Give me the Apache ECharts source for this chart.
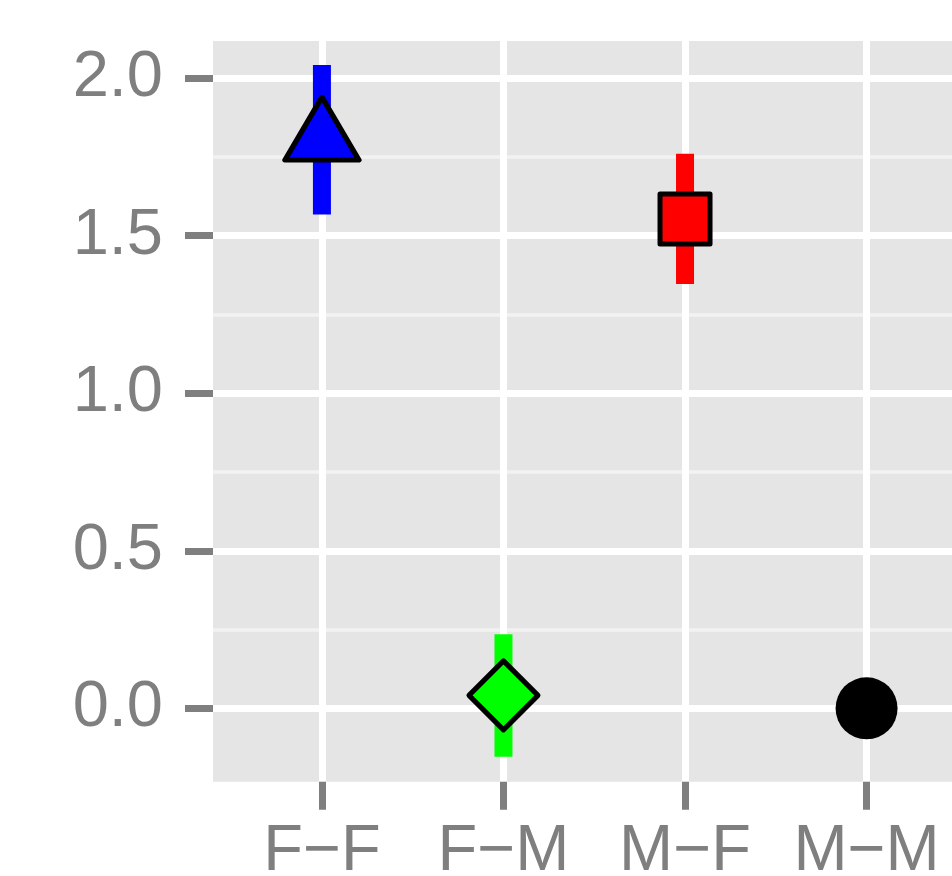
<!DOCTYPE html>
<html>
<head>
<meta charset="utf-8">
<script src="https://cdn.jsdelivr.net/npm/echarts@6/dist/echarts.min.js"></script>
<style>
  html, body { margin: 0; padding: 0; background: #ffffff; }
  #chart { width: 952px; height: 876px; }
</style>
</head>
<body>
<div id="chart"></div>
<script>
// ---- data ----
var categories = ['F\u2212F', 'F\u2212M', 'M\u2212F', 'M\u2212M'];
var means = [1.805, 0.041, 1.553, 0.0];
var upper = [2.042, 0.235, 1.760, 0.0];
var lower = [1.567, -0.154, 1.347, 0.0];
var yTicks = [0, 0.5, 1.0, 1.5, 2.0];
var yMinorTicks = [0.25, 0.75, 1.25, 1.75];
var xTicks = [1, 2, 3, 4];

// ---- styles ----
var colors = ['#0000FF', '#00FF00', '#FF0000', '#000000'];
var symbols = ['triangle', 'diamond', 'rect', 'circle'];
var symbolSizes = [[74, 63], [69, 69], [50, 50], 62];
var symbolOffsets = [[0, -11], [0, 0], [0, 0], [0, 0]];
var borderWidths = [5, 5, 5, 0];

var textColor = '#7F7F7F';
var fontFamily = '"Liberation Sans", Arial, Helvetica, sans-serif';

var chart = echarts.init(document.getElementById('chart'), null, { renderer: 'canvas' });

var errData = categories.map(function (c, i) {
  return [i + 1, lower[i], upper[i]];
});
var pointData = categories.map(function (c, i) {
  return {
    value: [i + 1, means[i]],
    symbol: symbols[i],
    symbolSize: symbolSizes[i],
    symbolOffset: symbolOffsets[i],
    itemStyle: {
      color: colors[i],
      opacity: 1,
      borderColor: '#000000',
      borderWidth: borderWidths[i],
      borderJoin: 'round'
    }
  };
});

var option = {
  animation: false,
  backgroundColor: '#ffffff',
  grid: {
    left: 213,
    top: 41,
    width: 762.5,
    height: 740.7,
    show: true,
    backgroundColor: '#E5E5E5',
    borderWidth: 0,
    containLabel: false,
    outerBoundsMode: 'none'
  },
  xAxis: {
    type: 'value',
    min: 0.4,
    max: 4.6,
    position: 'bottom',
    axisLine: { show: false, onZero: false },
    axisTick: {
      show: true,
      customValues: xTicks,
      length: 28,
      lineStyle: { color: textColor, width: 7 }
    },
    axisLabel: {
      show: true,
      customValues: xTicks,
      formatter: function (v) { return categories[Math.round(v) - 1] || ''; },
      color: textColor,
      fontSize: 65,
      fontFamily: fontFamily,
      margin: 38
    },
    splitLine: { show: true, lineStyle: { color: '#FFFFFF', width: 7 } }
  },
  yAxis: [
    {
      type: 'value',
      min: -0.233,
      max: 2.118,
      axisLine: { show: false, onZero: false },
      axisTick: {
        show: true,
        customValues: yTicks,
        length: 28,
        lineStyle: { color: textColor, width: 7 }
      },
      axisLabel: {
        show: true,
        customValues: yTicks,
        formatter: function (v) { return v.toFixed(1); },
        color: textColor,
        fontSize: 65,
        fontFamily: fontFamily,
        margin: 50
      },
      splitLine: { show: true, lineStyle: { color: '#FFFFFF', width: 7 } }
    },
    {
      type: 'value',
      min: -0.233,
      max: 2.118,
      position: 'right',
      axisLine: { show: false, onZero: false },
      axisTick: { show: false, customValues: yMinorTicks },
      axisLabel: { show: false, customValues: yMinorTicks },
      splitLine: { show: true, lineStyle: { color: '#F2F2F2', width: 3.5 } }
    }
  ],
  series: [
    {
      type: 'custom',
      data: errData,
      z: 2,
      renderItem: function (params, api) {
        var i = params.dataIndex;
        var p1 = api.coord([api.value(0), api.value(1)]);
        var p2 = api.coord([api.value(0), api.value(2)]);
        return {
          type: 'line',
          shape: { x1: p1[0], y1: p1[1], x2: p2[0], y2: p2[1] },
          style: { stroke: colors[i], lineWidth: 18, lineCap: 'butt' }
        };
      }
    },
    {
      type: 'scatter',
      z: 3,
      data: pointData
    }
  ]
};

chart.setOption(option);
</script>
</body>
</html>
